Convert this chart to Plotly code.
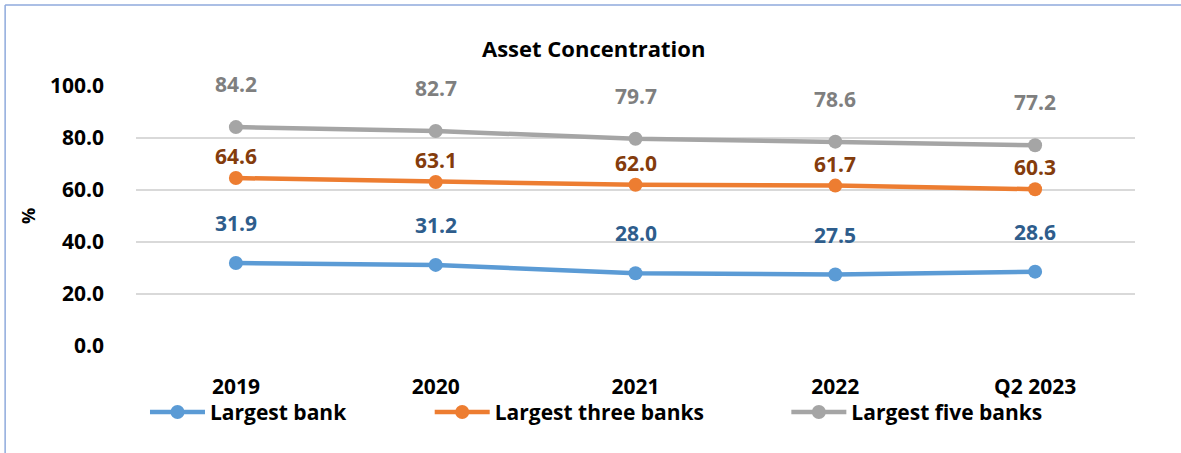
import plotly.graph_objects as go

categories = ["2019", "2020", "2021", "2022", "Q2 2023"]
largest_bank = [31.9, 31.2, 28.0, 27.5, 28.6]
largest_three = [64.6, 63.1, 62.0, 61.7, 60.3]
largest_five = [84.2, 82.7, 79.7, 78.6, 77.2]
y_ticks = [0, 20, 40, 60, 80, 100]

FONT = "Open Sans"
series = [
    ("Largest bank", largest_bank, "#5B9BD5", "#2E5D8C", 40, "legend"),
    ("Largest three banks", largest_three, "#ED7D31", "#843C0C", 22, "legend2"),
    ("Largest five banks", largest_five, "#A5A5A5", "#7F7F7F", 43, "legend3"),
]

fig = go.Figure()
annotations = []
for name, vals, col, lcol, shift, leg in series:
    fig.add_trace(go.Scatter(
        x=categories, y=vals, name=name, mode="lines+markers",
        line=dict(color=col, width=4.5), marker=dict(color=col, size=14),
        legend=leg,
    ))
    for i, v in enumerate(vals):
        annotations.append(dict(
            x=i, y=v, xref="x", yref="y", text=f"{v:.1f}", showarrow=False,
            yshift=shift, yanchor="middle",
            font=dict(family=FONT, size=21, color=lcol, weight="bold"),
        ))

annotations.append(dict(
    text="Asset Concentration", x=0.458, y=1.0, xref="paper", yref="paper",
    yshift=38, yanchor="middle", showarrow=False,
    font=dict(family=FONT, size=22, color="#000000", weight="bold"),
))

legend_common = dict(orientation="h", yanchor="middle", xanchor="left",
                     font=dict(family=FONT, size=21, color="#000000", weight="bold"),
                     bgcolor="rgba(0,0,0,0)", itemwidth=55)
fig.update_layout(
    width=1181, height=453,
    margin=dict(l=136, r=46, t=86, b=107, autoexpand=False),
    paper_bgcolor="white", plot_bgcolor="white",
    showlegend=True,
    legend=dict(x=0.009, y=-0.255, **legend_common),
    legend2=dict(x=0.294, y=-0.255, **legend_common),
    legend3=dict(x=0.651, y=-0.255, **legend_common),
    annotations=annotations,
    xaxis=dict(
        type="category", range=[-0.5, 4.5], showgrid=False, showline=False,
        ticks="", ticklabelstandoff=26, automargin=False,
        tickfont=dict(family=FONT, size=21, color="#000000", weight="bold"),
    ),
    yaxis=dict(
        range=[0, 100], tickvals=y_ticks, ticktext=[f"{t:.1f}" for t in y_ticks],
        showgrid=True, gridcolor="#D9D9D9", gridwidth=2, zeroline=False,
        showline=False, ticks="", ticklabelstandoff=31, automargin=False,
        tickfont=dict(family=FONT, size=21, color="#000000", weight="bold"),
        title=dict(text="%", standoff=9,
                   font=dict(family=FONT, size=18, color="#000000", weight="bold")),
    ),
    shapes=[
        dict(type="line", xref="paper", yref="paper", x0=-0.131, x1=1.06,
             y0=1.3115, y1=1.3115, line=dict(color="#8FAADC", width=1.5)),
        dict(type="line", xref="paper", yref="paper", x0=-0.131, x1=-0.131,
             y0=1.3115, y1=-0.45, line=dict(color="#8FAADC", width=1.5)),
    ],
)

fig.write_html(
    "out.html",
    config={"displayModeBar": False},
    post_script="document.body.style.margin='0';document.body.style.overflow='hidden';",
)
